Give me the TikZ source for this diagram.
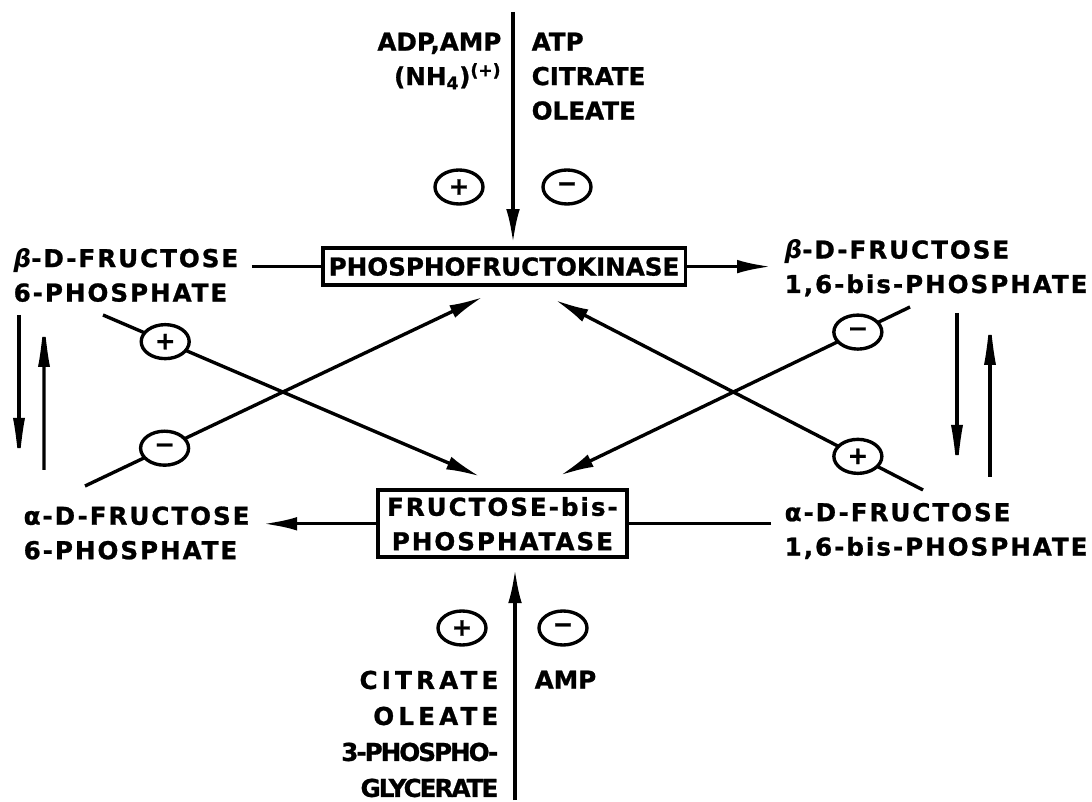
\documentclass[tikz,border=0pt]{standalone}
\usepackage{fontspec}
\setmainfont{DejaVu Sans}[BoldFeatures={FakeBold=1}]
\newfontfamily\wide{DejaVu Sans}[LetterSpace=8, BoldFeatures={FakeBold=1}]
\newfontfamily\spaced{DejaVu Sans}[LetterSpace=17, BoldFeatures={FakeBold=1}]
\newfontfamily\tight{DejaVu Sans}[LetterSpace=-8, BoldFeatures={FakeBold=1}]
\usetikzlibrary{arrows.meta,shapes.geometric}

\begin{document}
\begin{tikzpicture}[line width=2.4pt,
  every node/.style={font=\bfseries\fontsize{17.5}{24.5}\selectfont},
  enzyme/.style={draw, line width=2.6pt, inner xsep=0.15cm, inner ysep=0.1cm},
  sugar/.style={anchor=west, align=left, inner xsep=0.3cm, inner ysep=0.1cm,
    font=\wide\bfseries\fontsize{17.5}{24.5}\selectfont},
  effector/.style={inner sep=0pt},
  sign/.style={draw, ellipse, fill=white, minimum width=1.2cm, minimum height=0.85cm, inner sep=0pt},
  arr/.style={-{Latex[length=0.85cm,width=0.34cm]}},
  harp/.style={-{Latex[length=1.3cm,width=0.3cm]}}]
  \useasboundingbox (0,0) rectangle (27.3,20.025);
  % enzymes
  \node[enzyme, minimum height=0.925cm] (pfk) at (12.6,13.36) {PHOSPHOFRUCTOKINASE};
  \node[enzyme, align=center, minimum width=6.225cm, minimum height=1.675cm,
    font=\wide\bfseries\fontsize{17.5}{24.5}\selectfont] (fbp) at (12.56,6.93) {FRUCTOSE-bis-\\PHOSPHATASE};
  % sugars
  \node[sugar] (b6p) at (0,13.15) {{\itshape β}-D-FRUCTOSE\\6-PHOSPHATE};
  \node[sugar] (b16bp) at (19.275,13.325) {{\itshape β}-D-FRUCTOSE\\1,6-bis-PHOSPHATE};
  \node[sugar] (a6p) at (0.25,6.7) {α-D-FRUCTOSE\\6-PHOSPHATE};
  \node[sugar] (a16bp) at (19.275,6.75) {α-D-FRUCTOSE\\1,6-bis-PHOSPHATE};
  % effectors
  \coordinate (top) at (12.825,19.725);
  \coordinate (bot) at (12.875,0.025);
  \node[effector, anchor=north east, align=right] (act1) at (12.575,19.25) {ADP,AMP\\(NH\textsubscript{4})\textsuperscript{(+)}};
  \node[effector, anchor=north west, align=left] (inh1) at (13.25,19.25) {ATP\\CITRATE\\OLEATE};
  \node[effector, anchor=north east, align=right, font=\bfseries\fontsize{17.5}{25.6}\selectfont] (act2) at (12.5,3.3)
    {{\spaced CITRATE}\\{\spaced OLEATE}\\{\tight 3-PHOSPHO-}\\{\tight GLYCERATE}};
  \node[effector, anchor=north west] (inh2) at (13.325,3.3) {AMP};
  \node[sign] (p1) at (11.475,15.35) {+};
  \node[sign] (m1) at (14.175,15.35) {−};
  \node[sign] (p2) at (11.55,4.325) {+};
  \node[sign] (m2) at (14.075,4.325) {−};
  % main flow
  \draw[arr, shorten >=0.08cm] (top) -- (top |- pfk.north);
  \draw[arr, shorten >=0.25cm] (bot) -- (bot |- fbp.south);
  \draw (b6p.east |- pfk.west) -- (pfk.west);
  \draw[arr] (pfk.east) -- (pfk.east -| b16bp.west);
  \draw[arr] (fbp.west) -- (fbp.west -| a6p.east);
  \draw (a16bp.west |- fbp.east) -- (fbp.east);
  % anomerization
  \draw[harp] ([shift={(0.475,-1)}]b6p.west) -- ([shift={(0.225,1.575)}]a6p.west);
  \draw[harp] ([shift={(0.85,1.575)}]a6p.west) -- ([shift={(1.1,-1)}]b6p.west);
  \draw[harp] ([shift={(4.65,-1.125)}]b16bp.west) -- ([shift={(4.65,1.35)}]a16bp.west);
  \draw[harp] ([shift={(5.475,1.35)}]a16bp.west) -- ([shift={(5.475,-1.125)}]b16bp.west);
  % cross regulation
  \draw[arr] ([shift={(2.575,-1)}]b6p.west) -- node[sign, pos=0.165] (p3) {+} ([shift={(-0.56,0.3)}]fbp.north);
  \draw[arr] ([shift={(1.875,1.175)}]a6p.west) -- node[sign, pos=0.2] (m3) {−} ([shift={(-0.525,-0.25)}]pfk.south);
  \draw[arr] ([shift={(3.475,-0.975)}]b16bp.west) -- node[sign, pos=0.149] (m4) {−} ([shift={(1.44,0.325)}]fbp.north);
  \draw[arr] ([shift={(3.8,1.025)}]a16bp.west) -- node[sign, pos=0.177] (p4) {+} ([shift={(1.275,-0.325)}]pfk.south);
\end{tikzpicture}
\end{document}
